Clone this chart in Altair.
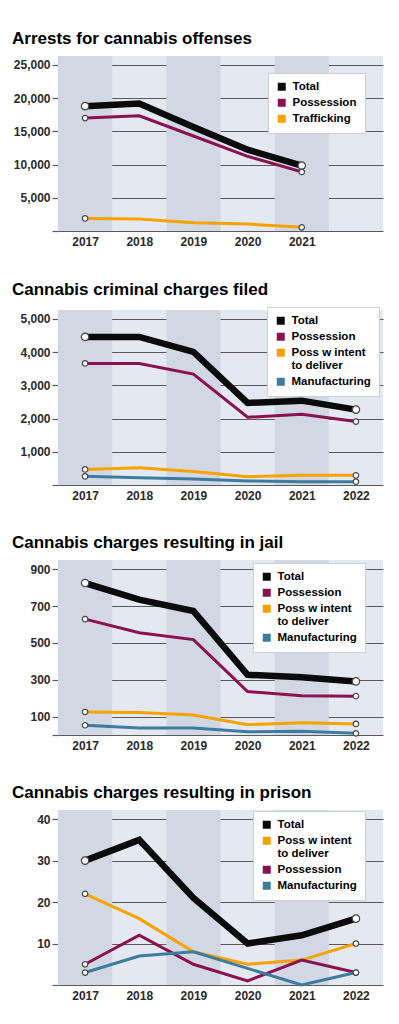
import altair as alt
import pandas as pd

FONT = "Liberation Sans, Arial, sans-serif"

years = [2017, 2018, 2019, 2020, 2021, 2022]
dark_band_years = [2017, 2019, 2021]

# Panel 1: Arrests for cannabis offenses
p1_title = "Arrests for cannabis offenses"
p1_years = [2017, 2018, 2019, 2020, 2021]
p1_total = [18800, 19200, 15650, 12250, 9850]
p1_possession = [17000, 17350, 14300, 11250, 8900]
p1_trafficking = [1900, 1800, 1250, 1050, 550]
p1_yticks = [0, 5000, 10000, 15000, 20000, 25000]

# Panel 2: Cannabis criminal charges filed
p2_title = "Cannabis criminal charges filed"
p2_total = [4460, 4460, 4010, 2470, 2540, 2270]
p2_possession = [3660, 3660, 3340, 2040, 2130, 1910]
p2_pwid = [470, 520, 410, 250, 290, 290]
p2_manufacturing = [260, 220, 180, 120, 100, 100]
p2_yticks = [0, 1000, 2000, 3000, 4000, 5000]

# Panel 3: Cannabis charges resulting in jail
p3_title = "Cannabis charges resulting in jail"
p3_total = [825, 735, 673, 327, 313, 291]
p3_possession = [629, 555, 518, 236, 213, 211]
p3_pwid = [125, 122, 109, 56, 67, 60]
p3_manufacturing = [53, 38, 38, 18, 20, 9]
p3_yticks = [0, 100, 300, 500, 700, 900]

# Panel 4: Cannabis charges resulting in prison
p4_title = "Cannabis charges resulting in prison"
p4_total = [30, 35, 21, 10, 12, 16]
p4_pwid = [22, 16, 8, 5, 6, 10]
p4_possession = [5, 12, 5, 1, 6, 3]
p4_manufacturing = [3, 7, 8, 4, 0, 3]
p4_yticks = [0, 10, 20, 30, 40]

PWID = "Poss w intent to deliver"
COLORS = {
    "Total": "#0b0b0b",
    "Possession": "#8b1150",
    "Trafficking": "#f7a200",
    PWID: "#f7a200",
    "Manufacturing": "#3d7c9e",
}
DARK = "#d1d8e4"
LIGHT = "#e4e9f1"
GRID = "#5a5a5a"


def panel(title, yrs, series, ymax, yticks, label_years, lx, ly):
    rows = []
    for name, vals in series:
        for yr, v in zip(yrs, vals):
            rows.append({"year": yr, "series": name, "value": v})
    df = pd.DataFrame(rows)
    order = [s[0] for s in series]
    ends = df[df["year"].isin([yrs[0], yrs[-1]])]

    xs = alt.Scale(domain=[2016.5, 2022.5], nice=False, zero=False)
    ys = alt.Scale(domain=[0, ymax], nice=False, zero=True)
    xaxis = alt.Axis(values=label_years, format="d", title=None, grid=False,
                     ticks=False, domain=False, labelPadding=5)
    yaxis = alt.Axis(values=yticks, title=None, grid=True,
                     ticks=True, tickSize=6, domain=False, labelPadding=2,
                     labelExpr="datum.value == 0 ? '' : format(datum.value, ',')")
    X = alt.X("year:Q", scale=xs, axis=xaxis)
    Y = alt.Y("value:Q", scale=ys, axis=yaxis)
    color = alt.Color(
        "series:N",
        scale=alt.Scale(domain=order, range=[COLORS[s] for s in order]),
        legend=alt.Legend(
            title=None, orient="none", legendX=lx, legendY=ly,
            fillColor="white", strokeColor="#cfcfcf", padding=8,
            symbolType="square", symbolSize=64, symbolStrokeWidth=0,
            symbolOpacity=1,
            labelFont=FONT, labelFontSize=11.5, labelFontWeight="bold",
            labelColor="black", labelOffset=5, rowPadding=3,
            labelExpr="datum.label == '%s' ? ['Poss w intent', 'to deliver'] : datum.label" % PWID,
        ),
    )

    bands = (
        alt.Chart(pd.DataFrame({"year": dark_band_years}))
        .transform_calculate(x0="datum.year - 0.5", x1="datum.year + 0.5",
                             y0="0", y1=str(ymax))
        .mark_rect(color=DARK)
        .encode(x=alt.X("x0:Q", scale=xs, axis=xaxis), x2="x1:Q",
                y=alt.Y("y1:Q", scale=ys, axis=yaxis), y2="y0:Q")
    )
    legend_src = (
        alt.Chart(df).transform_filter("datum.value < -1")
        .mark_square(filled=True, opacity=1)
        .encode(x=X, y=Y, color=color)
    )
    others = (
        alt.Chart(df).transform_filter("datum.series != 'Total'")
        .mark_line(strokeWidth=3)
        .encode(x=X, y=Y, color=color, order="year:Q")
    )
    total = (
        alt.Chart(df).transform_filter("datum.series == 'Total'")
        .mark_line(strokeWidth=6.5)
        .encode(x=X, y=Y, color=color, order="year:Q")
    )
    points = (
        alt.Chart(ends)
        .mark_point(filled=True, fill="white", stroke="#444444", strokeWidth=1.2, opacity=1)
        .encode(x=X, y=Y,
                size=alt.condition("datum.series == 'Total'", alt.value(55), alt.value(30)))
    )
    return alt.layer(bands, legend_src, others, total, points).properties(
        width=325, height=175,
        title=alt.Title(title, anchor="start", frame="group", dx=-46, offset=8,
                        font=FONT, fontSize=17, fontWeight="bold", color="black"),
    )


c1 = panel(p1_title, p1_years,
           [("Total", p1_total), ("Possession", p1_possession), ("Trafficking", p1_trafficking)],
           26350, p1_yticks, p1_years, 210, 17)
c2 = panel(p2_title, years,
           [("Total", p2_total), ("Possession", p2_possession), (PWID, p2_pwid),
            ("Manufacturing", p2_manufacturing)],
           5270, p2_yticks, years, 209, -3)
c3 = panel(p3_title, years,
           [("Total", p3_total), ("Possession", p3_possession), (PWID, p3_pwid),
            ("Manufacturing", p3_manufacturing)],
           950, p3_yticks, years, 195, 3)
c4 = panel(p4_title, years,
           [("Total", p4_total), (PWID, p4_pwid), ("Possession", p4_possession),
            ("Manufacturing", p4_manufacturing)],
           42.2, p4_yticks, years, 195, 1)

chart = (
    alt.vconcat(c1, c2, c3, c4, spacing=33)
    .resolve_scale(color="independent", x="independent", y="independent")
    .resolve_legend(color="independent")
    .properties(padding={"left": 4, "top": 22, "right": 5, "bottom": 5},
                background="white")
    .configure_view(fill=LIGHT, stroke=None)
    .configure_axis(labelFont=FONT, labelFontSize=12, labelFontWeight="bold",
                    labelColor="#2a2a2a", gridColor=GRID, gridWidth=1.2,
                    tickColor=GRID, tickWidth=1.2)
)

chart.save("out.html", embed_options={"renderer": "svg", "actions": False})
